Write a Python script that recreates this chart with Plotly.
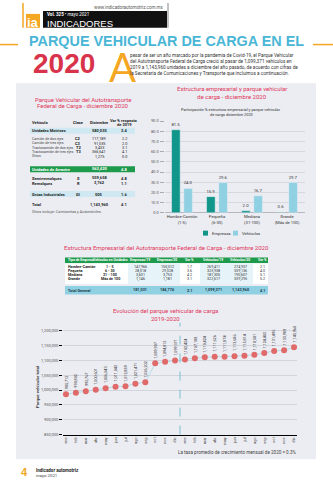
import plotly.graph_objects as go

# ---------------- DATA ----------------
# Left table: Parque Vehicular del Autotransporte Federal de Carga - diciembre 2020
veh_names = ["Unidades Motrices", "Camión de dos ejes", "Camión de tres ejes",
             "Tractocamión de dos ejes", "Tractocamión de tres ejes", "Otros",
             "Unidades de Arrastre", "Semirremolques", "Remolques",
             "Grúas Industriales", "Total"]
veh_clase = ["", "C2", "C3", "T2", "T3", "", "", "S", "R", "GI", ""]
veh_dic = [580035, 117189, 91035, 3433, 366641, 1275, 563420, 559658, 3762, 505, 1143960]
veh_var = [3.4, 2.2, 2.0, 3.1, 4.1, 0.0, 4.8, 4.8, 1.1, 1.6, 4.1]

# Bar chart: participación % estructura empresarial y parque vehicular
bar_cats = ["Hombre-Camión<br>(1-5)", "Pequeña<br>(6-30)", "Mediana<br>(31-100)", "Grande<br>(Más de 100)"]
share_empresas = [81.5, 15.9, 2.0, 0.6]
share_vehiculos = [24.0, 29.6, 16.7, 29.7]

# Middle table: Estructura Empresarial
emp_tipo = ["Hombre-Camión", "Pequeña", "Mediana", "Grande"]
emp_rango = ["1 - 5", "6 - 30", "31 - 100", "Más de 100"]
emp_19 = [147966, 28318, 3601, 1146]
emp_20 = [150512, 29328, 3753, 1181]
emp_var = [1.7, 3.6, 4.2, 3.1]
vehi_19 = [269411, 325938, 181305, 322617]
vehi_20 = [274937, 339136, 190607, 339295]
vehi_var = [2.1, 4.0, 5.1, 5.2]
tot_row = ["181,031", "184,774", "2.1", "1,099,371", "1,143,960", "4.1"]

# Line chart: Evolución del parque vehicular de carga 2019-2020
months = ["ene", "feb", "mar", "abr", "may", "jun", "jul", "ago", "sep", "oct", "nov", "dic"]
month_labels = months + months
parque = [985712, 990802, 995767, 1000601, 1006043, 1011042, 1012889, 1021471, 1026202,
          1089907, 1094812, 1099371,
          1102424, 1107188, 1110424, 1111626, 1111874, 1113686, 1115814, 1118581,
          1124402, 1131495, 1133989, 1143960]

# ---------------- HELPERS ----------------
W, H = 333, 491
BODY = "Liberation Sans Narrow, Roboto, Liberation Sans, sans-serif"
HEAD = "Liberation Sans, Arial, sans-serif"
CRIMSON = "#e0355b"
ORANGE = "#f5a623"
PANEL = "#ecedf2"
TEAL = "#11968a"
LBLUE = "#8fd0e2"


def X(p):
    return p / W


def Y(p):
    return 1 - p / H


ann = []
shapes = []


def txt(x, y, s, size, color="#333", bold=False, anchor="center", family=BODY, angle=0):
    ann.append(dict(x=X(x), y=Y(y), xref="paper", yref="paper",
                    text=f"<b>{s}</b>" if bold else s, showarrow=False,
                    font=dict(size=size, color=color, family=family),
                    xanchor=anchor, yanchor="middle", textangle=angle, borderpad=0))


def rect(x0, y0, x1, y1, color, layer="below"):
    shapes.append(dict(type="rect", xref="paper", yref="paper", x0=X(x0), x1=X(x1),
                       y0=Y(y1), y1=Y(y0), fillcolor=color, line=dict(width=0), layer=layer))


def hline(x0, y0, x1, y1, color, width, layer="below"):
    shapes.append(dict(type="line", xref="paper", yref="paper", x0=X(x0), x1=X(x1),
                       y0=Y(y0), y1=Y(y1), line=dict(color=color, width=width), layer=layer))


# ---------------- PAGE HEADER ----------------
rect(16, 81, 316, 461, PANEL)
hline(23, 0, 23, 25, ORANGE, 1.5)
rect(26, 11, 40, 25, ORANGE)
txt(33, 19.5, "ia", 13, "white", True, family=HEAD)
rect(43, 8, 167, 25, "#111111")
hline(168, 0, 168, 25, "#888888", 1)
txt(165, 5, "www.indicadorautomotriz.com.mx", 4.5, "#555", anchor="right")
txt(46, 12, "<b>Vol. 325</b> • <i>mayo 2021</i>", 4.5, "white", anchor="left")
txt(45.5, 20.5, "INDICADORES", 9.5, "white", anchor="left", family=HEAD)

hline(0, 42, 18, 42, ORANGE, 1.5)
hline(313, 42, 333, 42, ORANGE, 1.5)
txt(166.5, 38.5, "PARQUE VEHICULAR DE CARGA EN EL", 14.4, "#49b6d6", True, family=HEAD)
txt(32, 61, "2020", 28, "#d8334a", True, anchor="left", family=HEAD)
txt(122, 64.5, "A", 40, ORANGE, family="Lato, Open Sans, sans-serif")
para = ["pesar de ser un año marcado por la pandemia de Covid-19, el Parque Vehicular",
        "del Autotransporte Federal de Carga creció al pasar de 1,099,371 vehículos en",
        "2019 a 1,143,960 unidades a diciembre del año pasado, de acuerdo con cifras de",
        "la Secretaría de Comunicaciones y Transporte que incluimos a continuación."]
for i, line in enumerate(para):
    txt(129, 52.5 + i * 6.2, line, 4.7, "#333", anchor="left")

# ---------------- LEFT TABLE ----------------
txt(83, 97, "Parque Vehicular del Autotransporte", 6, CRIMSON)
txt(83, 104, "Federal de Carga - diciembre 2020", 6, CRIMSON)
txt(31, 121, "Vehículo", 4.0, "#222", True, anchor="left")
txt(78, 121, "Clase", 4.0, "#222", True)
txt(99, 121, "Diciembre", 4.0, "#222", True)
txt(124, 118.5, "Var % respecto", 4.0, "#222", True)
txt(124, 123, "de 2019", 4.0, "#222", True)
row_y = [129, 137, 141.5, 146, 150.5, 155, 168, 177, 182, 193, 204]
band = {0: "#cfe8f1", 6: "#1e9a4c", 9: "#cfe8f1"}
for i, name in enumerate(veh_names):
    y = row_y[i]
    bold = i in (0, 6, 7, 8, 9, 10)
    col = "#222"
    if i in band:
        rect(30, y - 3, 135, y + 3, band[i])
        if i == 6:
            col = "white"
    size = 4.0 if bold else 3.6
    txt(31, y, name, size, col if i in band else ("#444" if not bold else "#222"), bold, anchor="left")
    if veh_clase[i]:
        txt(78, y, veh_clase[i], 4.0, "#222", True)
    txt(99, y, f"{veh_dic[i]:,}", 4.0 if bold else 3.8, col, bold)
    txt(124, y, f"{veh_var[i]:.1f}", 4.0 if bold else 3.8, col, bold)
txt(31, 211, "Otros incluye: Camionetas y Automóviles", 3.8, "#555", anchor="left")

# ---------------- BAR CHART ----------------
txt(232, 86, "Estructura empresarial y parque vehicular", 6, CRIMSON)
txt(232, 94.5, "de carga - diciembre 2020", 6, CRIMSON)
txt(231, 108, "Participación % estructura empresarial y parque vehicular", 3.9, "#333")
txt(231, 112.5, "de carga diciembre 2020", 3.9, "#333")
rect(203, 230, 208, 235, TEAL)
txt(211, 232.5, "Empresas", 4.2, "#333", anchor="left")
rect(233, 230, 238, 235, LBLUE)
txt(241, 232.5, "Vehículos", 4.2, "#333", anchor="left")

fig = go.Figure()
fig.add_trace(go.Bar(x=bar_cats, y=share_empresas, name="Empresas", marker_color=TEAL,
                     text=[f"{v:.1f}" for v in share_empresas], textposition="outside",
                     textfont=dict(size=4.3, color="#333", family=BODY), cliponaxis=False,
                     constraintext="none", xaxis="x", yaxis="y", showlegend=False))
fig.add_trace(go.Bar(x=bar_cats, y=share_vehiculos, name="Vehículos", marker_color=LBLUE,
                     text=[f"{v:.1f}" for v in share_vehiculos], textposition="outside",
                     textfont=dict(size=4.3, color="#333", family=BODY), cliponaxis=False,
                     constraintext="none", xaxis="x", yaxis="y", showlegend=False))

# ---------------- MIDDLE TABLE ----------------
txt(166, 247, "Estructura Empresarial del Autotransporte Federal de Carga - diciembre 2020", 6, CRIMSON)
cols_x = [66.5, 110, 140, 167, 189, 213, 240, 262]
heads = ["Tipo de Empresa", "Vehículos en Unidades", "Empresas/19", "Empresas/20",
         "Var %", "Vehículos/19", "Vehículos/20", "Var %"]
rect(65, 257, 268, 263, "#1e9a4c")
rect(65, 263, 268, 284, "#ffffff")
rect(128, 263, 180, 284, "#e6f3f8")
rect(200, 263, 253, 284, "#e6f3f8")
for j, h in enumerate(heads):
    txt(cols_x[j], 260, h, 3.4, "white", True, anchor="left" if j == 0 else "center")
body_y = [266.5, 270.5, 275, 279]
for i in range(4):
    y = body_y[i]
    vals = [f"{emp_19[i]:,}", f"{emp_20[i]:,}", f"{emp_var[i]:.1f}",
            f"{vehi_19[i]:,}", f"{vehi_20[i]:,}", f"{vehi_var[i]:.1f}"]
    txt(cols_x[0], y, emp_tipo[i], 3.7, "#222", True, anchor="left")
    txt(cols_x[1], y, emp_rango[i], 3.7, "#222", True)
    for j, v in enumerate(vals):
        txt(cols_x[j + 2], y, v, 3.7, "#333")
rect(65, 286, 268, 294.5, LBLUE)
txt(cols_x[0], 290, "Total General", 3.8, "#1d3b4a", True, anchor="left")
for j, v in enumerate(tot_row):
    txt(cols_x[j + 2], 290, v, 3.8, "#1d3b4a", True)

# ---------------- LINE CHART ----------------
txt(165, 310.5, "Evolución del parque vehicular de carga", 6, CRIMSON)
txt(165, 318.5, "2019-2020", 6, CRIMSON)
txt(37, 388, "Parque vehicular total", 4.3, "#333", True, angle=-90)
txt(297, 454, "La tasa promedio de crecimiento mensual de 2020 = 0.3%", 4.6, "#444", anchor="right")

idx = list(range(len(parque)))
fig.add_trace(go.Scatter(x=idx, y=parque, mode="lines+markers", xaxis="x2", yaxis="y2",
                         line=dict(color="#a9d8e8", width=0.8),
                         marker=dict(color="#e06a6a", size=6), cliponaxis=False,
                         showlegend=False))
for i, v in zip(idx, parque):
    ann.append(dict(x=i, y=v, xref="x2", yref="y2", text=f"{v:,}", showarrow=False,
                    textangle=-90, yanchor="bottom", xanchor="center", yshift=4,
                    font=dict(size=3.8, color="#333", family=BODY), borderpad=0))
shapes.append(dict(type="line", xref="x2", yref="y2 domain", x0=11.5, x1=11.5, y0=0, y1=1,
                   line=dict(color="#5fb8c8", width=0.8, dash="dash")))

# ---------------- FOOTER ----------------
txt(24, 474, "4", 11, ORANGE, True, family=HEAD)
txt(35, 472, "Indicador automotriz", 4.5, "#222", True, anchor="left")
txt(35, 477, "mayo 2021", 4.3, "#444", anchor="left")

fig.update_layout(
    width=W, height=H, margin=dict(l=0, r=0, t=0, b=0),
    paper_bgcolor="white", plot_bgcolor="rgba(0,0,0,0)",
    barmode="group", bargap=0.3, bargroupgap=0.3,
    font=dict(family=BODY, size=4.5, color="#333"),
    xaxis=dict(domain=[X(164.5), X(304.5)], anchor="y", tickfont=dict(size=4.2, color="#333"),
               showgrid=False, showline=False, ticks=""),
    yaxis=dict(domain=[Y(212), Y(119.3)], anchor="x", range=[0, 90], dtick=10,
               tickformat=".1f", gridcolor="#d6d8de", gridwidth=0.6, ticks="outside",
               ticklen=4, tickcolor="#aaa", tickfont=dict(size=4, color="#555"),
               zeroline=True, zerolinecolor="#b5b7bd", zerolinewidth=0.8),
    xaxis2=dict(domain=[X(63), X(297)], anchor="y2", range=[-0.3, 23.3],
                tickvals=idx, ticktext=month_labels, tickangle=-90,
                tickfont=dict(size=4, color="#444"), showgrid=False, zeroline=False,
                showline=True, linecolor="black", linewidth=1.3, ticks=""),
    yaxis2=dict(domain=[Y(436), Y(323)], anchor="x2", range=[850000, 1226667],
                tick0=850000, dtick=50000, tickformat=",d", gridcolor="#d3d5dc",
                gridwidth=0.6, ticks="outside", ticklen=3, tickcolor="black",
                tickfont=dict(size=4, color="#555"), zeroline=False, showline=False),
    annotations=ann, shapes=shapes,
)

fig.write_html("out.html")
